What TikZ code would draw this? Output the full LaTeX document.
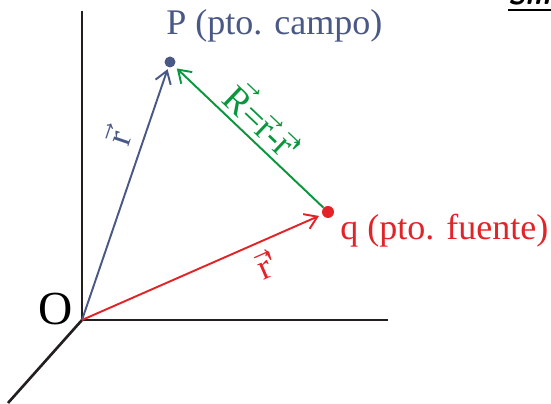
\documentclass[tikz,border=0pt]{standalone}
\usepackage{amsmath}
\usepackage{fontspec}
\setmainfont{Liberation Serif}
\usetikzlibrary{arrows.meta}
\definecolor{pblue}{RGB}{74,88,133}
\definecolor{qred}{RGB}{226,36,40}
\definecolor{rgreen}{RGB}{10,150,60}
\definecolor{axisk}{RGB}{35,31,32}
\newcommand{\vr}{\vec{\text{r}}}
\newcommand{\vR}{\vec{\text{R}}}
\newcommand{\prm}{\text{\textquotesingle}}
\tikzset{
  axisline/.style={axisk,line width=1.5pt},
  vecline/.style={line width=1.1pt,-{Straight Barb[length=2.4mm,width=3.2mm]}},
  dot/.style={circle,inner sep=0pt,minimum size=#1},
  lbl/.style={font=\fontsize{20.5}{22}\selectfont}
}

\begin{document}
\begin{tikzpicture}[x=0.02cm,y=-0.02cm]
  \useasboundingbox (0,0) rectangle (551,404);
  % axes
  \coordinate (O) at (82,320);
  \coordinate (zend) at (82,11);
  \coordinate (yend) at (388,320);
  \coordinate (xend) at (8,403);
  \draw[axisline] (zend) -- (O) -- (yend);
  \draw[axisline] (O) -- (xend);
  \node[lbl,font=\fontsize{27}{30}\selectfont,anchor=base east,inner sep=0pt] (Olbl) at (73,325) {O};
  % points
  \node[dot=2.2mm,fill=pblue] (P) at (170,62) {};
  \node[dot=2.4mm,fill=qred] (q) at (328,212) {};
  \node[lbl,pblue,anchor=base west,inner sep=0pt] (Plbl) at (166,35) {P (pto. campo)};
  \node[lbl,qred,anchor=base west,inner sep=0pt] (qlbl) at (340,240) {q (pto. fuente)};
  % vectors
  \draw[vecline,pblue,shorten >=1pt] (O) -- (P)
    node[pos=0.69,sloped,above,lbl,inner sep=6pt] {$\vr$};
  \draw[vecline,qred,shorten >=2pt] (O) -- (q)
    node[pos=0.73,sloped,below,lbl,inner sep=5pt] {$\vr\prm$};
  \draw[vecline,rgreen,shorten >=2pt] (q) -- (P)
    node[midway,sloped,above,lbl,font=\fontsize{21}{23}\selectfont,inner sep=3pt] {$\vR\text{=}\vr\text{-}\vr\prm$};
  % cut text at the top edge
  \begin{scope}
    \clip (480,0) rectangle (551,7);
    \node[anchor=base west,inner sep=0pt,font=\sffamily\itshape\bfseries\fontsize{16}{18}\selectfont] (cut) at (508,5) {Sm};
  \end{scope}
  \draw[black,line width=1.2pt] (508,10) -- (551,10);
\end{tikzpicture}
\end{document}
